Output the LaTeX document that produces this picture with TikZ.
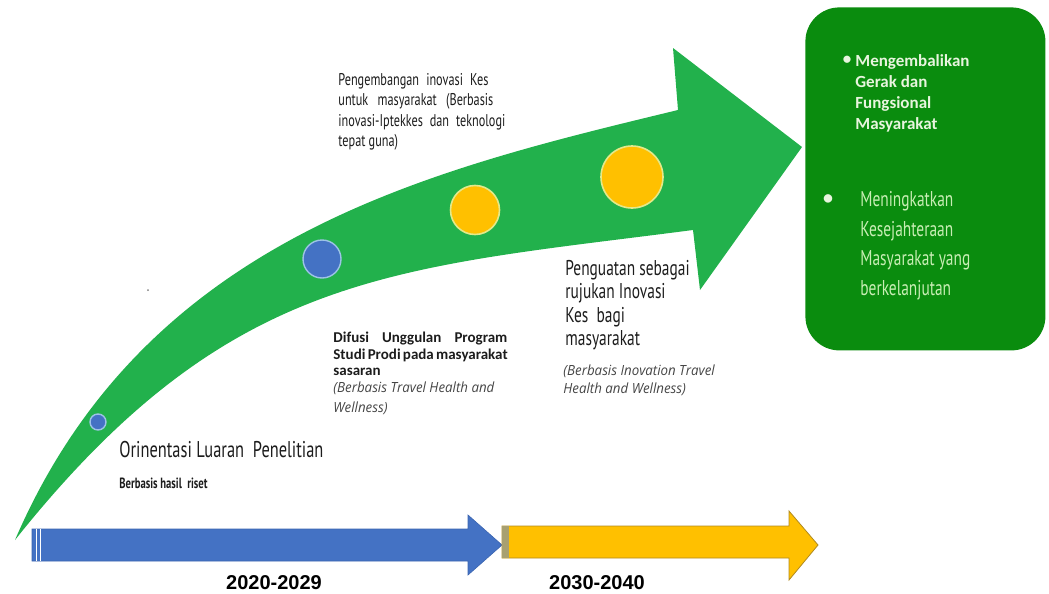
\documentclass[tikz,border=0pt]{standalone}
\usepackage{fontspec}
\setmainfont{Carlito}
\newfontfamily\gill[FakeStretch=0.72]{PT Sans}
\newfontfamily\calb{Carlito}
\newfontfamily\opit[FakeStretch=0.95]{Open Sans}
\newfontfamily\arl{Liberation Sans}
\definecolor{arrgreen}{HTML}{22B14C}
\definecolor{boxgreen}{HTML}{0A8C0E}
\definecolor{tblue}{HTML}{4472C4}
\definecolor{tblueline}{HTML}{3A64B0}
\definecolor{lblue}{HTML}{9DC3E6}
\definecolor{tyellow}{HTML}{FFC000}
\definecolor{lyellow}{HTML}{E4E98A}
\definecolor{yline}{HTML}{B08A20}
\definecolor{ystrip}{HTML}{A8A070}
\definecolor{txtdark}{HTML}{1C1C1C}
\definecolor{itgray}{HTML}{454545}
\definecolor{boxtxtA}{HTML}{E8F5DE}
\definecolor{boxtxtB}{HTML}{C8EEB4}
\tikzset{
  txt/.style={inner sep=0pt, anchor=north west, align=left, text=txtdark},
  bluedot/.style={circle, fill=tblue, draw=lblue, line width=0.7pt, inner sep=0pt},
  yellowdot/.style={circle, fill=tyellow, draw=lyellow, line width=0.8pt, inner sep=0pt},
  yearlbl/.style={inner sep=0pt, font=\arl\bfseries\fontsize{10}{12}\selectfont, text=black}
}
\begin{document}
\begin{tikzpicture}[x=0.5pt, y=-0.5pt]
\useasboundingbox (0,0) rectangle (1049,594);
% curved green arrow
\fill[arrgreen] (15,540) .. controls (146,236) and (430,170) .. (678,110)
  -- (673,48) -- (802,147) -- (700,290) -- (693,230)
  .. controls (393,269) and (230,270) .. (15,540) -- cycle;
% dots on the arrow
\node[bluedot, minimum size=8pt] (d1) at (98,422) {};
\node[bluedot, minimum size=19pt] (d2) at (322,259) {};
\node[yellowdot, minimum size=24.5pt] (d3) at (475,210) {};
\node[yellowdot, minimum size=31pt] (d4) at (632,177) {};
\node[circle, fill=gray, inner sep=0pt, minimum size=1pt] (dot) at (148,290) {};
% result box
\node[fill=boxgreen, rounded corners=17pt, minimum width=120pt, minimum height=171.5pt, anchor=north west, inner sep=0pt] (box) at (805,7) {};
% timeline arrows
\fill[tblue, draw=tblueline, line width=0.3pt] (32,529) -- (468,529) -- (468,515) -- (502,545) -- (468,575) -- (468,561) -- (32,561) -- cycle;
\draw[white, line width=0.5pt] (36,529) -- (36,561);
\draw[white, line width=0.4pt] (40,529) -- (40,561);
\fill[tyellow, draw=yline, line width=0.4pt] (502,526) -- (789,526) -- (789,511) -- (818,545) -- (789,580) -- (789,558) -- (502,558) -- cycle;
\fill[ystrip] (502,526) rectangle (509,558);
% year labels
\node[yearlbl] (y1) at (274,583) {2020-2029};
\node[yearlbl] (y2) at (597,583) {2030-2040};
% texts
\node[txt, font=\gill\fontsize{8.5}{10.25}\selectfont] (t1) at (338,73)
  {\makebox[75pt][s]{Pengembangan inovasi Kes}\\
   \makebox[77.5pt][s]{untuk masyarakat (Berbasis}\\
   \makebox[83.5pt][s]{inovasi-Iptekkes dan teknologi}\\
   tepat guna)};
\node[txt, font=\calb\bfseries\fontsize{7.5}{8.2}\selectfont] (t2) at (333,332)
  {\makebox[87pt][s]{Difusi Unggulan Program}\\
   \makebox[87pt][s]{Studi Prodi pada masyarakat}\\
   sasaran};
\node[txt, text=itgray, font=\opit\itshape\fontsize{7}{10}\selectfont] (t2i) at (333,381)
  {(Berbasis Travel Health and\\ Wellness)};
\node[txt, font=\gill\fontsize{10.7}{11.7}\selectfont] (t3) at (565,260)
  {Penguatan sebagai\\ rujukan Inovasi\\ Kes\ \ bagi\\ masyarakat};
\node[txt, text=itgray, font=\opit\itshape\fontsize{7}{9}\selectfont] (t3i) at (563,364)
  {(Berbasis Inovation Travel\\ Health and Wellness)};
\node[txt, font=\gill\fontsize{11.4}{14}\selectfont] (t4) at (119,441)
  {Orinentasi Luaran\ \ Penelitian};
\node[txt, font=\gill\bfseries\fontsize{7.4}{8}\selectfont] (t4b) at (119,478)
  {Berbasis hasil\ \ riset};
% box texts
\node[inner sep=0pt, text=boxtxtA, font=\calb\bfseries\fontsize{8.5}{10}\selectfont] (b1) at (847,60) {•};
\node[txt, text=boxtxtA, font=\calb\bfseries\fontsize{8.5}{10.5}\selectfont] (bt1) at (855,54)
  {Mengembalikan\\ Gerak dan\\ Fungsional\\ Masyarakat};
\node[inner sep=0pt, text=boxtxtA, font=\calb\bfseries\fontsize{10}{12}\selectfont] (b2) at (828,200) {•};
\node[txt, text=boxtxtB, font=\gill\fontsize{10.7}{14.75}\selectfont] (bt2) at (860,191)
  {Meningkatkan\\ Kesejahteraan\\ Masyarakat\ yang\\ berkelanjutan};
\end{tikzpicture}
\end{document}
